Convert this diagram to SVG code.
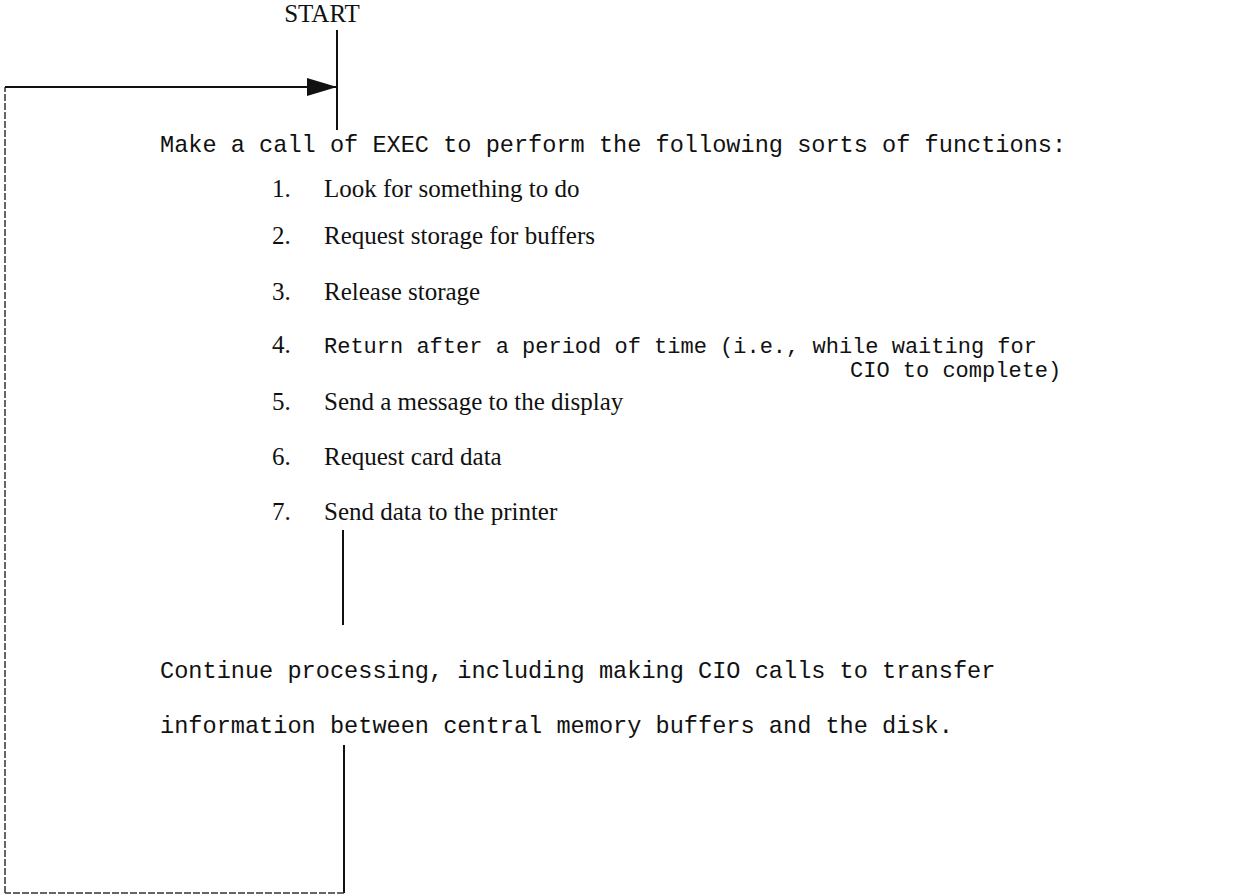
<svg xmlns="http://www.w3.org/2000/svg" width="1235" height="895" viewBox="0 0 1235 895">
  <style>
    .mono { font-family: "Liberation Mono", "Courier New", monospace; font-size: 23.6px; fill: #111; }
    .mono4 { font-family: "Liberation Mono", "Courier New", monospace; font-size: 22px; fill: #111; }
    .item { font-family: "Liberation Serif", "Times New Roman", serif; font-size: 25px; fill: #111; }
    .wire { stroke: #111; stroke-width: 2; fill: none; }
    .loop { stroke: #333; stroke-width: 1.5; fill: none; stroke-dasharray: 7 2; }
  </style>
  <defs>
    <marker id="arrow" viewBox="0 0 30 18" refX="30" refY="9" markerWidth="30" markerHeight="18" markerUnits="userSpaceOnUse" orient="auto">
      <path d="M0,0 L30,9 L0,18 Z" fill="#111"/>
    </marker>
  </defs>
  <rect width="1235" height="895" fill="#ffffff"/>

  <g id="connectors">
    <line class="wire" x1="337" y1="30" x2="337" y2="130"/>
    <line class="loop" x1="5" y1="893" x2="5" y2="87"/>
    <line class="wire" x1="5" y1="87" x2="337" y2="87" marker-end="url(#arrow)"/>
    <line class="wire" x1="343" y1="530" x2="343" y2="625"/>
    <line class="wire" x1="344" y1="745" x2="344" y2="893"/>
    <line class="loop" x1="344" y1="893" x2="5" y2="893"/>
  </g>

  <g id="start">
    <text class="item" x="322" y="22" text-anchor="middle">START</text>
  </g>

  <g id="exec-call">
    <text class="mono" x="160" y="152">Make a call of EXEC to perform the following sorts of functions:</text>
    <text class="item" x="272" y="197">1.</text>
    <text class="item" x="324" y="197">Look for something to do</text>
    <text class="item" x="272" y="244">2.</text>
    <text class="item" x="324" y="244">Request storage for buffers</text>
    <text class="item" x="272" y="300">3.</text>
    <text class="item" x="324" y="300">Release storage</text>
    <text class="item" x="272" y="353">4.</text>
    <text class="mono4" x="324" y="353">Return after a period of time (i.e., while waiting for</text>
    <text class="mono4" x="850" y="377">CIO to complete)</text>
    <text class="item" x="272" y="410">5.</text>
    <text class="item" x="324" y="410">Send a message to the display</text>
    <text class="item" x="272" y="465">6.</text>
    <text class="item" x="324" y="465">Request card data</text>
    <text class="item" x="272" y="520">7.</text>
    <text class="item" x="324" y="520">Send data to the printer</text>
  </g>

  <g id="continue-processing">
    <text class="mono" x="160" y="678">Continue processing, including making CIO calls to transfer</text>
    <text class="mono" x="160" y="733">information between central memory buffers and the disk.</text>
  </g>
</svg>
